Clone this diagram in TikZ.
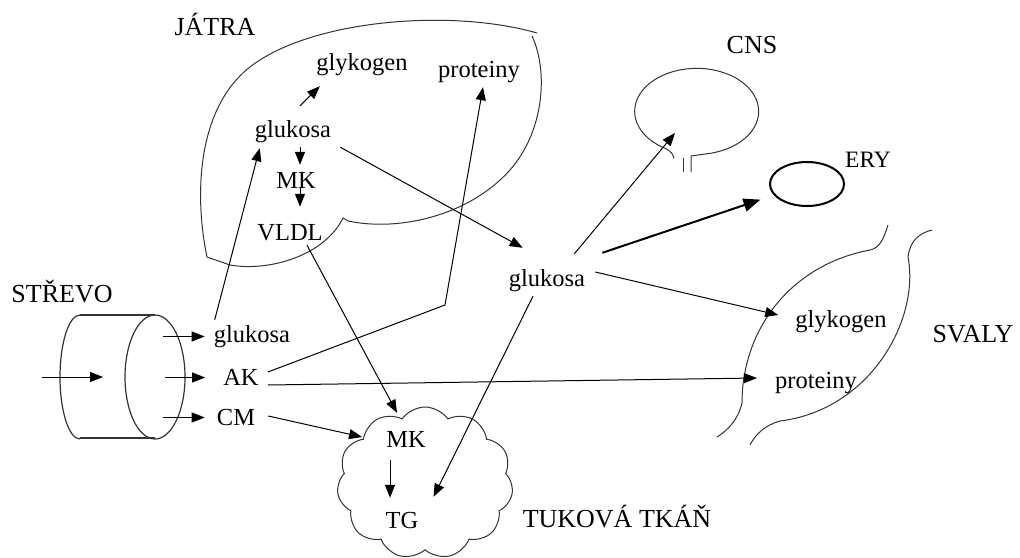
\documentclass[tikz,border=0pt]{standalone}
\usepackage{fontspec}
\setmainfont{Liberation Serif}
\usepackage{tikz}
\usetikzlibrary{arrows.meta,shapes,positioning}

\newcommand{\lblfont}{\fontsize{24.5}{28}\selectfont}
\newcommand{\regfont}{\fontsize{26}{30}\selectfont}

\begin{document}
\begin{tikzpicture}[
    x=1pt, y=-1pt,
    lbl/.style={font=\lblfont, inner sep=0pt, anchor=base,
                text height=16pt, text depth=5pt},
    region/.style={font=\regfont, inner sep=0pt, anchor=base},
    organ/.style={draw=black!80, line width=1pt},
    arr/.style={-{Triangle[length=13pt,width=10pt]}, line width=1pt},
    thickarr/.style={-{Triangle[length=17pt,width=13pt]}, line width=2pt},
  ]
  \useasboundingbox (0,0) rectangle (1020,557);

  % organs
  \draw[organ] (537,33) .. controls (450,8) and (310,20) .. (250,67)
    .. controls (195,110) and (195,200) .. (207,257) -- (230,265)
    .. controls (270,272) and (325,255) .. (343,218) -- (348,221)
    .. controls (400,232) and (470,215) .. (510,170)
    .. controls (545,130) and (548,70) .. (532,36);
  \draw[organ] (674,158) .. controls (672,151) and (667,149) .. (662,147)
    arc[start angle=124, end angle=438, x radius=62, y radius=43]
    -- (691,156) -- (691,172);
  \draw[organ] (683,158) -- (683,172);
  \node[draw, ellipse, line width=2pt, minimum width=74pt, minimum height=44pt,
        inner sep=0pt] (ery) at (807,184) {};
  \draw[organ] (888,225) .. controls (884,238) and (880,248) .. (870,250)
    .. controls (790,265) and (742,330) .. (742,403)
    .. controls (738,420) and (728,430) .. (717,437);
  \draw[organ] (932,230) .. controls (920,233) and (910,240) .. (908,257)
    .. controls (920,320) and (870,410) .. (780,421)
    .. controls (765,425) and (755,435) .. (750,445);
  \draw[organ, line width=1.2pt] (80,315) -- (155,315) (80,438) -- (155,438);
  \draw[organ, line width=1.2pt] (80,315) arc[start angle=270, end angle=90, x radius=20, y radius=62];
  \draw[organ, line width=1.2pt] (155,377) ellipse [x radius=30, y radius=62];
  \node[cloud, draw=black!80, line width=1pt, cloud puffs=11, cloud puff arc=110,
        aspect=1.15, minimum width=176pt, minimum height=152pt, inner sep=0pt] (fat) at (425,483) {};

  % labels
  \node[region] (jatra) at (215,35) {JÁTRA};
  \node[region] (cnslbl) at (752,53) {CNS};
  \node[region, font=\fontsize{23.5}{28}\selectfont] (erylbl) at (868,167) {ERY};
  \node[region] (strevo) at (62,302) {STŘEVO};
  \node[region] (svaly) at (973,342) {SVALY};
  \node[region] (tukova) at (617,527) {TUKOVÁ TKÁŇ};

  \node[lbl] (glyk1) at (362,70) {glykogen};
  \node[lbl] (prot1) at (479,77) {proteiny};
  \node[lbl] (gl1) at (293,137) {glukosa};
  \node[lbl] (mk1) at (296,188) {MK};
  \node[lbl] (vldl) at (290,240) {VLDL};
  \node[lbl] (gl2) at (547,286) {glukosa};
  \node[lbl] (gl3) at (252,342) {glukosa};
  \node[lbl] (ak) at (241,385) {AK};
  \node[lbl] (cm) at (236,425) {CM};
  \node[lbl] (glyk2) at (841,327) {glykogen};
  \node[lbl] (prot2) at (816,388) {proteiny};
  \node[lbl] (mk2) at (406,447) {MK};
  \node[lbl] (tg) at (402,528) {TG};

  \coordinate (gutin) at (42,377);
  \coordinate (gutmid) at (103,377);
  \coordinate (gut1) at (163,336.5);
  \coordinate (gut2) at (165,377.5);
  \coordinate (gut3) at (163,417.5);
  \coordinate (akbend) at (445,305);
  \coordinate (cnsin) at (675,133);

  % intestine
  \draw[arr] (gutin) -- (gutmid);
  \draw[arr] (gut1) -- ([xshift=-9pt]gl3.west);
  \draw[arr] (gut2) -- ([xshift=-18pt,yshift=2pt]ak.west);
  \draw[arr] (gut3) -- ([xshift=-12pt,yshift=2pt]cm.west);

  % liver
  \draw[arr] ([xshift=1pt,yshift=6pt]gl3.north west) -- ([xshift=5pt,yshift=-6pt]gl1.south west);
  \draw[arr] ([xshift=7pt,yshift=15pt]gl1.north) -- ([xshift=3.6pt,yshift=-11pt]glyk1.south west);
  \draw[arr] ([xshift=7pt,yshift=-5pt]gl1.south) -- ([xshift=4pt,yshift=7pt]mk1.north);
  \draw[arr] ([xshift=4pt,yshift=5pt]mk1.south) -- ([xshift=10pt,yshift=17pt]vldl.north);
  \draw[arr] ([xshift=9pt,yshift=7.5pt]ak.east) -- (akbend) -- ([xshift=4pt,yshift=-5pt]prot1.south);
  \draw[arr] ([xshift=9pt,yshift=-5pt]gl1.south east) -- ([xshift=14pt,yshift=22pt]gl2.north west);

  % blood glucose
  \draw[arr] ([xshift=-11pt,yshift=16pt]gl2.north east) -- (cnsin);
  \draw[thickarr, shorten >=14pt] ([xshift=17pt,yshift=17pt]gl2.north east) -- (ery);
  \draw[arr] ([xshift=10pt,yshift=8.5pt]gl2.east) -- ([xshift=-17pt,yshift=6.5pt]glyk2.west);
  \draw[arr] ([xshift=-14pt,yshift=-5pt]gl2.south) -- ([xshift=15pt,yshift=15pt]tg.north east);
  \draw[arr] ([xshift=9pt,yshift=-5.5pt]ak.east) -- ([xshift=-18pt,yshift=4.5pt]prot2.west);

  % adipose
  \draw[arr] ([xshift=13pt,yshift=3.5pt]cm.east) -- ([xshift=-24pt,yshift=4.5pt]mk2.west);
  \draw[arr] ([xshift=17pt]vldl.south) -- ([xshift=-9pt,yshift=18pt]mk2.north);
  \draw[arr] ([xshift=-16pt,yshift=-8pt]mk2.south) -- ([xshift=-12pt,yshift=14pt]tg.north);
\end{tikzpicture}
\end{document}
